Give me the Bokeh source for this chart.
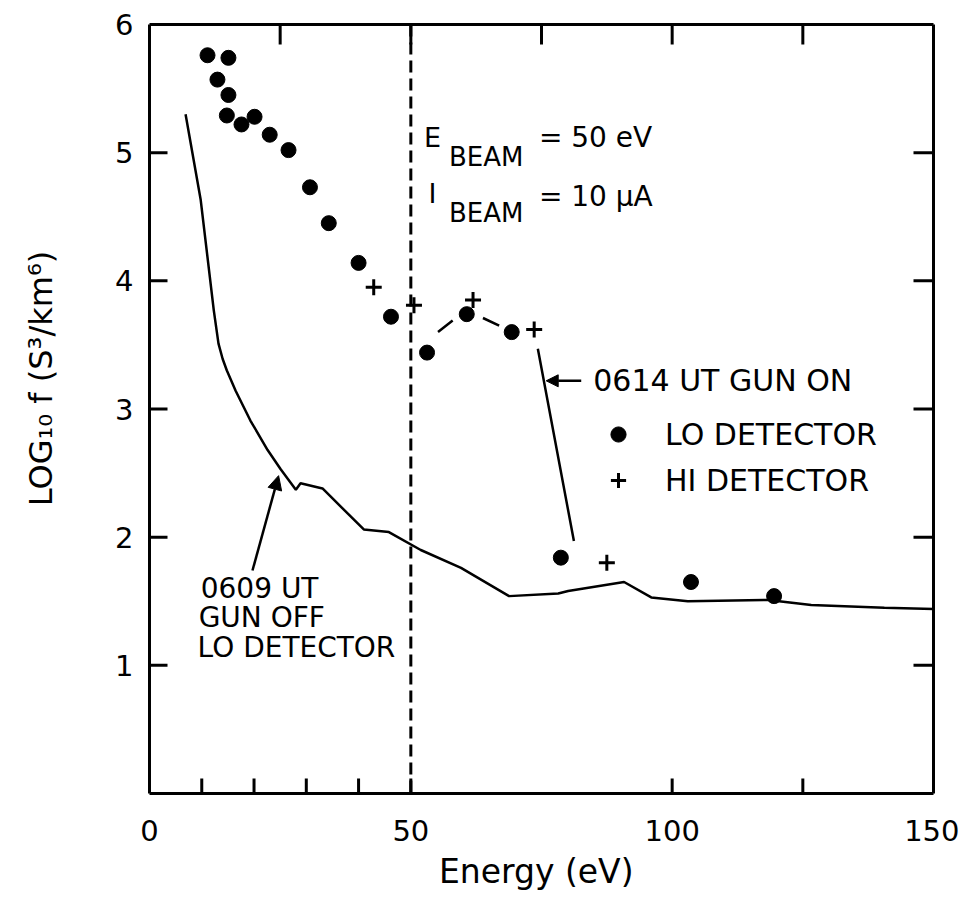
import math
from bokeh.plotting import figure
from bokeh.models import (Range1d, FixedTicker, LinearAxis, Span, Label, Arrow,
                          NormalHead, Legend, LegendItem)
from bokeh.embed import file_html
from bokeh.resources import INLINE

FONT = "DejaVu Sans"
NAN = float("nan")

# ---- data ----
lo_energy = [11.1, 15.1, 13.0, 15.1, 14.8, 17.6, 20.1, 23.0, 26.6, 30.7, 34.3,
             40.0, 46.2, 53.1, 60.7, 69.3, 78.7, 103.6, 119.5]
lo_logf = [5.76, 5.74, 5.57, 5.45, 5.29, 5.22, 5.28, 5.14, 5.02, 4.73, 4.45,
           4.14, 3.72, 3.44, 3.74, 3.60, 1.84, 1.65, 1.54]

hi_energy = [42.9, 50.6, 61.9, 73.6, 87.5]
hi_logf = [3.95, 3.81, 3.85, 3.62, 1.80]

off_energy = [6.9, 9.8, 12.3, 13.2, 14.0, 14.8, 16.5, 19.3, 22.6, 25.1, 28.0, 28.9,
              33.1, 41.0, 45.8, 51.9, 59.6, 68.8, 78.2, 80.1, 90.8, 96.0,
              103.0, 118.4, 126.6, 140.6, 150.0]
off_logf = [5.30, 4.63, 3.77, 3.51, 3.39, 3.30, 3.14, 2.91, 2.68, 2.53, 2.37, 2.42,
            2.38, 2.06, 2.04, 1.90, 1.76, 1.54, 1.56, 1.58, 1.65, 1.53,
            1.50, 1.51, 1.47, 1.45, 1.44]

on_energy = [55.2, 58.0, NAN, 63.8, 66.9, NAN, 74.3, 81.2]
on_logf = [3.60, 3.69, NAN, 3.71, 3.65, NAN, 3.47, 1.97]

beam_energy = 50

X_MIN, X_MAX = 0, 150
Y_MIN, Y_MAX = 0, 6
x_label_ticks = [0, 50, 100, 150]
x_bottom_marks = [10, 20, 30, 40, 50, 100, 125]
x_top_marks = [25, 50, 75, 100, 125]
y_label_ticks = [1, 2, 3, 4, 5, 6]
y_marks = [1, 2, 3, 4, 5]

# ---- figure ----
p = figure(frame_width=784, frame_height=769,
           x_range=Range1d(X_MIN, X_MAX), y_range=Range1d(Y_MIN, Y_MAX),
           output_backend="svg", toolbar_location=None,
           min_border_left=149, min_border_right=26,
           min_border_top=24, min_border_bottom=100)
p.outline_line_color = None
p.xgrid.visible = False
p.ygrid.visible = False
p.background_fill_color = "white"
p.border_fill_color = "white"

def style_axis(ax):
    ax.axis_line_width = 3
    ax.axis_line_color = "black"
    ax.major_tick_line_color = None
    ax.minor_tick_line_color = None
    ax.major_tick_in = 0
    ax.major_tick_out = 0
    ax.major_label_text_font = FONT
    ax.major_label_text_color = "black"
    ax.axis_label_text_font = FONT
    ax.axis_label_text_font_style = "normal"
    ax.axis_label_text_color = "black"

xa = p.xaxis[0]
style_axis(xa)
xa.ticker = FixedTicker(ticks=x_label_ticks)
xa.major_label_text_font_size = "29px"
xa.major_label_standoff = 26
xa.axis_label = "Energy  (eV)"
xa.axis_label_text_font_size = "33px"
xa.axis_label_standoff = 8

ya = p.yaxis[0]
style_axis(ya)
ya.ticker = FixedTicker(ticks=y_label_ticks)
ya.major_label_text_font_size = "29px"
ya.major_label_standoff = 16
ya.axis_label = "\u00a0" * 6 + "LOG\u2081\u2080 f (S\u00b3/km\u2076)"
ya.axis_label_text_font_size = "32px"
ya.axis_label_standoff = 52

top = LinearAxis(ticker=FixedTicker(ticks=[]))
style_axis(top)
top.major_label_standoff = 0
p.add_layout(top, "above")

right = LinearAxis(ticker=FixedTicker(ticks=[]))
style_axis(right)
right.major_label_standoff = 0
p.add_layout(right, "right")

# ---- inward tick marks (half of each dash is clipped by the frame) ----
p.scatter([X_MIN] * len(y_marks), y_marks, marker="dash", size=36,
          line_width=3, line_color="black")
p.scatter([X_MAX] * len(y_marks), y_marks, marker="dash", size=40,
          line_width=3, line_color="black")
p.scatter(x_bottom_marks, [Y_MIN] * len(x_bottom_marks), marker="dash",
          angle=math.pi / 2, size=30, line_width=3, line_color="black")
p.scatter(x_top_marks, [Y_MAX] * len(x_top_marks), marker="dash",
          angle=math.pi / 2, size=40, line_width=3, line_color="black")

# ---- beam energy marker ----
p.add_layout(Span(location=beam_energy, dimension="height", line_color="black",
                  line_width=3, line_dash="12 6"))

# ---- curves ----
p.line(off_energy, off_logf, line_color="black", line_width=2.5)
p.line(on_energy, on_logf, line_color="black", line_width=2.5)

r_lo = p.scatter(lo_energy, lo_logf, marker="circle", size=15,
                 fill_color="black", line_color="black")
r_hi = p.scatter(hi_energy, hi_logf, marker="cross", size=16, line_width=3,
                 line_color="black")

legend = Legend(items=[LegendItem(label="LO DETECTOR", renderers=[r_lo]),
                       LegendItem(label="HI DETECTOR", renderers=[r_hi])],
                location=(450, 294), orientation="vertical",
                glyph_width=38, glyph_height=38, label_standoff=28,
                spacing=8, padding=0, margin=0,
                border_line_color=None, background_fill_alpha=0,
                label_text_font=FONT, label_text_font_size="30px",
                label_text_color="black")
p.add_layout(legend)

# ---- annotations ----
def lab(x, y, text, size):
    p.add_layout(Label(x=x, y=y, text=text, text_font=FONT,
                       text_font_size=size, text_color="black",
                       text_align="left", text_baseline="middle"))

lab(52.5, 5.12, "E", "27px")
lab(57.3, 4.97, "BEAM", "26px")
lab(74.5, 5.12, "= 50 eV", "28px")
lab(53.4, 4.68, "I", "27px")
lab(57.3, 4.53, "BEAM", "26px")
lab(74.5, 4.66, "= 10 \u03bcA", "28px")

lab(84.9, 3.22, "0614 UT GUN ON", "30px")
lab(9.8, 1.60, "0609 UT", "28px")
lab(9.4, 1.37, "GUN OFF", "28px")
lab(9.2, 1.14, "LO DETECTOR", "28px")

p.add_layout(Arrow(end=NormalHead(size=14, fill_color="black", line_color="black"),
                   x_start=19.7, y_start=1.74, x_end=24.7, y_end=2.48,
                   line_color="black", line_width=2.5))
p.add_layout(Arrow(end=NormalHead(size=12, fill_color="black", line_color="black"),
                   x_start=82.6, y_start=3.22, x_end=75.9, y_end=3.22,
                   line_color="black", line_width=2.5))

open("out.html", "w").write(file_html(p, INLINE))
